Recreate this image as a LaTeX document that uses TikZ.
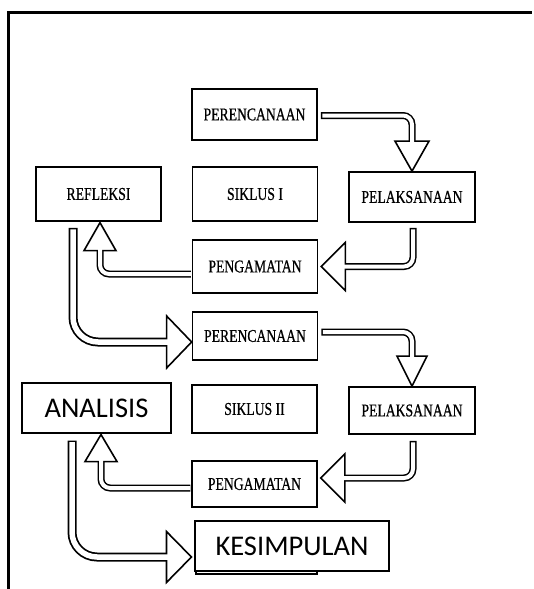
\documentclass[tikz,border=0pt]{standalone}
\usepackage{fontspec}
\setmainfont{Liberation Serif}
\newfontfamily\condserif[FakeStretch=0.76,FakeBold=0.6]{Liberation Serif}
\newfontfamily\calib{Carlito}
\usetikzlibrary{calc}
\tikzset{
  box/.style={draw=black, line width=1.7pt, fill=white, minimum width=125pt,
    minimum height=50pt, inner sep=0pt, font=\condserif\fontsize{18}{18}\selectfont},
  bigbox/.style={draw=black, line width=1.1pt, fill=white, inner sep=0pt,
    minimum height=50pt, font=\calib\fontsize{28.5}{28.5}\selectfont},
  shaftout/.style={draw=black, line width=7pt, rounded corners=9pt},
  shaftin/.style={draw=white, line width=4pt, rounded corners=9pt},
  wideout/.style={draw=black, line width=9pt, rounded corners=25pt},
  widein/.style={draw=white, line width=5.5pt, rounded corners=25pt},
  head/.style={draw=black, fill=white, line width=1.6pt, line join=miter},
  frame/.style={draw=black, line width=3pt},
}
\begin{document}
\begin{tikzpicture}[x=1pt,y=-1pt]
\fill[white] (0,0) rectangle (533,589);
\useasboundingbox (0,0) rectangle (533,589);
\draw[frame] (8,589) -- (8,12) -- (532,12);

% cycle I
\node[box, minimum height=51pt] (per1) at (254.5,114.5) {PERENCANAAN};
\node[box, minimum height=54pt] (ref1) at (98.5,194) {REFLEKSI};
\node[box, minimum height=54pt] (sik1) at (255,194) {SIKLUS I};
\node[box, minimum width=126pt] (pel1) at (412,197) {PELAKSANAAN};
\node[box, minimum height=53pt] (pen1) at (255,266.5) {PENGAMATAN};
% cycle II
\node[box, minimum height=48pt] (per2) at (255,336) {PERENCANAAN};
\node[bigbox, minimum width=149pt] (ana) at (96.5,408) {ANALISIS};
\node[box, minimum height=48pt] (sik2) at (254.5,409) {SIKLUS II};
\node[box, minimum width=126pt, minimum height=47pt] (pel2) at (412,410.5) {PELAKSANAAN};
\node[box, minimum height=46pt] (pen2) at (254.5,484) {PENGAMATAN};
\node[box, minimum width=121pt, minimum height=44pt] (hid) at (256.5,552) {};
\node[bigbox, minimum width=194pt] (kes) at (292,546) {KESIMPULAN};

% A1: per1 -> pel1
\draw[shaftout] ($(per1.east)+(3,1)$) -| ($(pel1.north)+(0,-30)$);
\filldraw[head] (pel1.north) -- ++(-17,-30) -- ++(34,0) -- cycle;
\draw[shaftin, shorten <=1.5pt] ($(per1.east)+(3,1)$) -| ($(pel1.north)+(0,-28.3)$);

% A2: pel1 -> pen1
\draw[shaftout] ($(pel1.south)+(1,5)$) |- ($(pen1.east)+(27,0)$);
\filldraw[head] ($(pen1.east)+(3,0)$) -- ++(24,-24) -- ++(0,48) -- cycle;
\draw[shaftin, shorten <=1.5pt] ($(pel1.south)+(1,5)$) |- ($(pen1.east)+(25.3,0)$);

% A3: pen1 -> ref1
\draw[shaftout] ($(pen1.west)+(-0.8,7.5)$) -| ($(ref1.south)+(1.5,28.8)$);
\filldraw[head] ($(ref1.south)+(1.5,0.8)$) -- ++(-16,28) -- ++(32,0) -- cycle;
\draw[shaftin] ($(pen1.west)+(-0.8,7.5)$) -| ($(ref1.south)+(1.5,27.1)$);

% A4: ref1 -> per2
\draw[wideout] ($(ref1.south)+(-25.5,6)$) |- ($(per2.west)+(-25,6)$);
\filldraw[head] ($(per2.west)+(0,6)$) -- ++(-25,-26) -- ++(0,52) -- cycle;
\draw[widein, shorten <=1.5pt] ($(ref1.south)+(-25.5,6)$) |- ($(per2.west)+(-23.3,6)$);

% A5: per2 -> pel2
\draw[shaftout] ($(per2.east)+(3,-4)$) -| ($(pel2.north)+(0,-30)$);
\filldraw[head] (pel2.north) -- ++(-15,-30) -- ++(30,0) -- cycle;
\draw[shaftin, shorten <=1.5pt] ($(per2.east)+(3,-4)$) -| ($(pel2.north)+(0,-28.3)$);

% A6: pel2 -> pen2
\draw[shaftout] ($(pel2.south)+(1,6)$) |- ($(pen2.east)+(27,-6)$);
\filldraw[head] ($(pen2.east)+(3,-6)$) -- ++(24,-24) -- ++(0,48) -- cycle;
\draw[shaftin, shorten <=1.5pt] ($(pel2.south)+(1,6)$) |- ($(pen2.east)+(25.3,-6)$);

% A7: pen2 -> ana
\draw[shaftout] ($(pen2.west)+(-0.8,4)$) -| ($(ana.south)+(4.5,28)$);
\filldraw[head] ($(ana.south)+(4.5,1)$) -- ++(-16,27) -- ++(32,0) -- cycle;
\draw[shaftin] ($(pen2.west)+(-0.8,4)$) -| ($(ana.south)+(4.5,26.3)$);

% A8: ana -> kes
\draw[wideout] ($(ana.south)+(-24.5,7)$) |- ($(kes.west)+(-28,11)$);
\filldraw[head] ($(kes.west)+(-3,11)$) -- ++(-25,-25.5) -- ++(0,51) -- cycle;
\draw[widein, shorten <=1.5pt] ($(ana.south)+(-24.5,7)$) |- ($(kes.west)+(-26.3,11)$);
\end{tikzpicture}
\end{document}
